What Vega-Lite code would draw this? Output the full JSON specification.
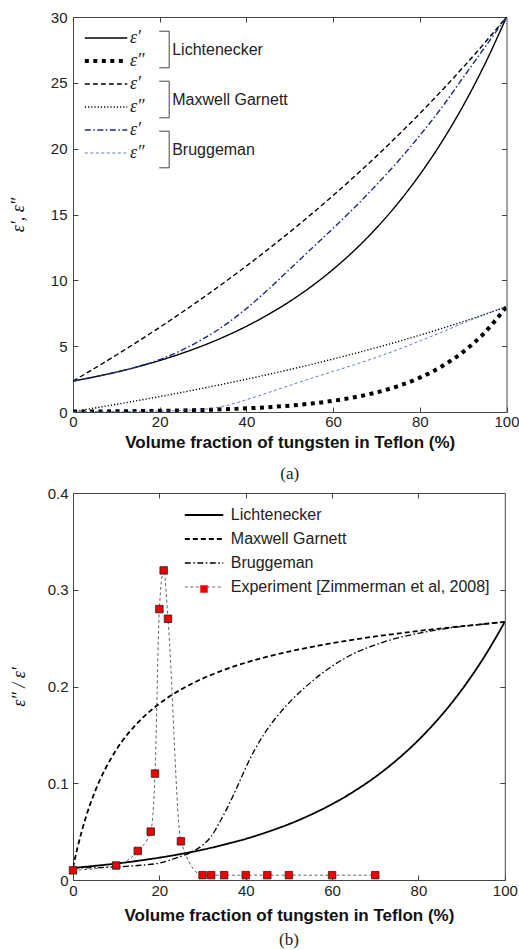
{
  "$schema": "https://vega.github.io/schema/vega-lite/v6.json",
  "background": "white",
  "padding": {"left": 9, "top": 9, "right": 0, "bottom": 0},
  "columns": 1,
  "align": "none",
  "spacing": 2,
  "resolve": {
    "scale": {"x": "independent", "y": "independent", "color": "independent", "strokeDash": "independent", "shape": "independent"},
    "legend": {"color": "independent", "strokeDash": "independent", "shape": "independent"}
  },
  "config": {
    "view": {"stroke": "#444", "strokeWidth": 1},
    "axis": {"grid": false, "domain": false, "tickColor": "#444", "tickSize": -5, "tickWidth": 1, "labelFont": "Liberation Sans", "labelFontSize": 15, "labelColor": "#222", "titleColor": "#111"},
    "legend": {"padding": 0, "offset": 0}
  },
  "datasets": {
    "a": [
      {"f":0,"g":"Lichtenecker","s":"Lichtenecker ε′","v":2.35},{"f":5,"g":"Lichtenecker","s":"Lichtenecker ε′","v":2.669},{"f":10,"g":"Lichtenecker","s":"Lichtenecker ε′","v":3.032},{"f":15,"g":"Lichtenecker","s":"Lichtenecker ε′","v":3.443},{"f":20,"g":"Lichtenecker","s":"Lichtenecker ε′","v":3.911},{"f":25,"g":"Lichtenecker","s":"Lichtenecker ε′","v":4.442},{"f":30,"g":"Lichtenecker","s":"Lichtenecker ε′","v":5.045},{"f":35,"g":"Lichtenecker","s":"Lichtenecker ε′","v":5.731},{"f":40,"g":"Lichtenecker","s":"Lichtenecker ε′","v":6.509},{"f":45,"g":"Lichtenecker","s":"Lichtenecker ε′","v":7.393},{"f":50,"g":"Lichtenecker","s":"Lichtenecker ε′","v":8.397},{"f":55,"g":"Lichtenecker","s":"Lichtenecker ε′","v":9.537},{"f":60,"g":"Lichtenecker","s":"Lichtenecker ε′","v":10.832},{"f":65,"g":"Lichtenecker","s":"Lichtenecker ε′","v":12.303},{"f":70,"g":"Lichtenecker","s":"Lichtenecker ε′","v":13.974},{"f":75,"g":"Lichtenecker","s":"Lichtenecker ε′","v":15.872},{"f":80,"g":"Lichtenecker","s":"Lichtenecker ε′","v":18.028},{"f":85,"g":"Lichtenecker","s":"Lichtenecker ε′","v":20.476},{"f":90,"g":"Lichtenecker","s":"Lichtenecker ε′","v":23.257},{"f":95,"g":"Lichtenecker","s":"Lichtenecker ε′","v":26.415},{"f":100,"g":"Lichtenecker","s":"Lichtenecker ε′","v":30},
      {"f":0,"g":"Lichtenecker","s":"Lichtenecker ε″","v":0.029},{"f":5,"g":"Lichtenecker","s":"Lichtenecker ε″","v":0.039},{"f":10,"g":"Lichtenecker","s":"Lichtenecker ε″","v":0.052},{"f":15,"g":"Lichtenecker","s":"Lichtenecker ε″","v":0.068},{"f":20,"g":"Lichtenecker","s":"Lichtenecker ε″","v":0.09},{"f":25,"g":"Lichtenecker","s":"Lichtenecker ε″","v":0.119},{"f":30,"g":"Lichtenecker","s":"Lichtenecker ε″","v":0.158},{"f":35,"g":"Lichtenecker","s":"Lichtenecker ε″","v":0.209},{"f":40,"g":"Lichtenecker","s":"Lichtenecker ε″","v":0.277},{"f":45,"g":"Lichtenecker","s":"Lichtenecker ε″","v":0.366},{"f":50,"g":"Lichtenecker","s":"Lichtenecker ε″","v":0.485},{"f":55,"g":"Lichtenecker","s":"Lichtenecker ε″","v":0.642},{"f":60,"g":"Lichtenecker","s":"Lichtenecker ε″","v":0.849},{"f":65,"g":"Lichtenecker","s":"Lichtenecker ε″","v":1.124},{"f":70,"g":"Lichtenecker","s":"Lichtenecker ε″","v":1.488},{"f":75,"g":"Lichtenecker","s":"Lichtenecker ε″","v":1.969},{"f":80,"g":"Lichtenecker","s":"Lichtenecker ε″","v":2.607},{"f":85,"g":"Lichtenecker","s":"Lichtenecker ε″","v":3.45},{"f":90,"g":"Lichtenecker","s":"Lichtenecker ε″","v":4.566},{"f":95,"g":"Lichtenecker","s":"Lichtenecker ε″","v":6.043},{"f":100,"g":"Lichtenecker","s":"Lichtenecker ε″","v":8},
      {"f":0,"g":"Maxwell Garnett","s":"Maxwell Garnett ε′","v":2.35},{"f":5,"g":"Maxwell Garnett","s":"Maxwell Garnett ε′","v":3.323},{"f":10,"g":"Maxwell Garnett","s":"Maxwell Garnett ε′","v":4.327},{"f":15,"g":"Maxwell Garnett","s":"Maxwell Garnett ε′","v":5.363},{"f":20,"g":"Maxwell Garnett","s":"Maxwell Garnett ε′","v":6.433},{"f":25,"g":"Maxwell Garnett","s":"Maxwell Garnett ε′","v":7.538},{"f":30,"g":"Maxwell Garnett","s":"Maxwell Garnett ε′","v":8.681},{"f":35,"g":"Maxwell Garnett","s":"Maxwell Garnett ε′","v":9.863},{"f":40,"g":"Maxwell Garnett","s":"Maxwell Garnett ε′","v":11.087},{"f":45,"g":"Maxwell Garnett","s":"Maxwell Garnett ε′","v":12.354},{"f":50,"g":"Maxwell Garnett","s":"Maxwell Garnett ε′","v":13.667},{"f":55,"g":"Maxwell Garnett","s":"Maxwell Garnett ε′","v":15.029},{"f":60,"g":"Maxwell Garnett","s":"Maxwell Garnett ε′","v":16.442},{"f":65,"g":"Maxwell Garnett","s":"Maxwell Garnett ε′","v":17.909},{"f":70,"g":"Maxwell Garnett","s":"Maxwell Garnett ε′","v":19.434},{"f":75,"g":"Maxwell Garnett","s":"Maxwell Garnett ε′","v":21.019},{"f":80,"g":"Maxwell Garnett","s":"Maxwell Garnett ε′","v":22.669},{"f":85,"g":"Maxwell Garnett","s":"Maxwell Garnett ε′","v":24.388},{"f":90,"g":"Maxwell Garnett","s":"Maxwell Garnett ε′","v":26.179},{"f":95,"g":"Maxwell Garnett","s":"Maxwell Garnett ε′","v":28.048},{"f":100,"g":"Maxwell Garnett","s":"Maxwell Garnett ε′","v":30},
      {"f":0,"g":"Maxwell Garnett","s":"Maxwell Garnett ε″","v":0.029},{"f":5,"g":"Maxwell Garnett","s":"Maxwell Garnett ε″","v":0.301},{"f":10,"g":"Maxwell Garnett","s":"Maxwell Garnett ε″","v":0.581},{"f":15,"g":"Maxwell Garnett","s":"Maxwell Garnett ε″","v":0.872},{"f":20,"g":"Maxwell Garnett","s":"Maxwell Garnett ε″","v":1.172},{"f":25,"g":"Maxwell Garnett","s":"Maxwell Garnett ε″","v":1.484},{"f":30,"g":"Maxwell Garnett","s":"Maxwell Garnett ε″","v":1.807},{"f":35,"g":"Maxwell Garnett","s":"Maxwell Garnett ε″","v":2.142},{"f":40,"g":"Maxwell Garnett","s":"Maxwell Garnett ε″","v":2.49},{"f":45,"g":"Maxwell Garnett","s":"Maxwell Garnett ε″","v":2.851},{"f":50,"g":"Maxwell Garnett","s":"Maxwell Garnett ε″","v":3.227},{"f":55,"g":"Maxwell Garnett","s":"Maxwell Garnett ε″","v":3.618},{"f":60,"g":"Maxwell Garnett","s":"Maxwell Garnett ε″","v":4.025},{"f":65,"g":"Maxwell Garnett","s":"Maxwell Garnett ε″","v":4.449},{"f":70,"g":"Maxwell Garnett","s":"Maxwell Garnett ε″","v":4.891},{"f":75,"g":"Maxwell Garnett","s":"Maxwell Garnett ε″","v":5.352},{"f":80,"g":"Maxwell Garnett","s":"Maxwell Garnett ε″","v":5.834},{"f":85,"g":"Maxwell Garnett","s":"Maxwell Garnett ε″","v":6.339},{"f":90,"g":"Maxwell Garnett","s":"Maxwell Garnett ε″","v":6.867},{"f":95,"g":"Maxwell Garnett","s":"Maxwell Garnett ε″","v":7.42},{"f":100,"g":"Maxwell Garnett","s":"Maxwell Garnett ε″","v":8},
      {"f":0,"g":"Bruggeman","s":"Bruggeman ε′","v":2.35},{"f":5,"g":"Bruggeman","s":"Bruggeman ε′","v":2.67},{"f":10,"g":"Bruggeman","s":"Bruggeman ε′","v":3.02},{"f":15,"g":"Bruggeman","s":"Bruggeman ε′","v":3.45},{"f":20,"g":"Bruggeman","s":"Bruggeman ε′","v":3.98},{"f":25,"g":"Bruggeman","s":"Bruggeman ε′","v":4.68},{"f":30,"g":"Bruggeman","s":"Bruggeman ε′","v":5.55},{"f":35,"g":"Bruggeman","s":"Bruggeman ε′","v":6.6},{"f":40,"g":"Bruggeman","s":"Bruggeman ε′","v":7.85},{"f":45,"g":"Bruggeman","s":"Bruggeman ε′","v":9.3},{"f":50,"g":"Bruggeman","s":"Bruggeman ε′","v":10.85},{"f":55,"g":"Bruggeman","s":"Bruggeman ε′","v":12.4},{"f":60,"g":"Bruggeman","s":"Bruggeman ε′","v":13.95},{"f":65,"g":"Bruggeman","s":"Bruggeman ε′","v":15.55},{"f":70,"g":"Bruggeman","s":"Bruggeman ε′","v":17.25},{"f":75,"g":"Bruggeman","s":"Bruggeman ε′","v":19.05},{"f":80,"g":"Bruggeman","s":"Bruggeman ε′","v":21.0},{"f":85,"g":"Bruggeman","s":"Bruggeman ε′","v":23.1},{"f":90,"g":"Bruggeman","s":"Bruggeman ε′","v":25.4},{"f":95,"g":"Bruggeman","s":"Bruggeman ε′","v":27.7},{"f":100,"g":"Bruggeman","s":"Bruggeman ε′","v":30},
      {"f":0,"g":"Bruggeman","s":"Bruggeman ε″","v":0.029},{"f":5,"g":"Bruggeman","s":"Bruggeman ε″","v":0.034},{"f":10,"g":"Bruggeman","s":"Bruggeman ε″","v":0.041},{"f":15,"g":"Bruggeman","s":"Bruggeman ε″","v":0.052},{"f":20,"g":"Bruggeman","s":"Bruggeman ε″","v":0.07},{"f":25,"g":"Bruggeman","s":"Bruggeman ε″","v":0.115},{"f":30,"g":"Bruggeman","s":"Bruggeman ε″","v":0.2},{"f":35,"g":"Bruggeman","s":"Bruggeman ε″","v":0.46},{"f":40,"g":"Bruggeman","s":"Bruggeman ε″","v":0.93},{"f":45,"g":"Bruggeman","s":"Bruggeman ε″","v":1.47},{"f":50,"g":"Bruggeman","s":"Bruggeman ε″","v":2.02},{"f":55,"g":"Bruggeman","s":"Bruggeman ε″","v":2.56},{"f":60,"g":"Bruggeman","s":"Bruggeman ε″","v":3.08},{"f":65,"g":"Bruggeman","s":"Bruggeman ε″","v":3.6},{"f":70,"g":"Bruggeman","s":"Bruggeman ε″","v":4.15},{"f":75,"g":"Bruggeman","s":"Bruggeman ε″","v":4.75},{"f":80,"g":"Bruggeman","s":"Bruggeman ε″","v":5.4},{"f":85,"g":"Bruggeman","s":"Bruggeman ε″","v":6.05},{"f":90,"g":"Bruggeman","s":"Bruggeman ε″","v":6.75},{"f":95,"g":"Bruggeman","s":"Bruggeman ε″","v":7.4},{"f":100,"g":"Bruggeman","s":"Bruggeman ε″","v":8}
    ],
    "b": [
      {"f":0,"m":"Lichtenecker","r":0.0125},{"f":5,"m":"Lichtenecker","r":0.0146},{"f":10,"m":"Lichtenecker","r":0.017},{"f":15,"m":"Lichtenecker","r":0.0198},{"f":20,"m":"Lichtenecker","r":0.0231},{"f":25,"m":"Lichtenecker","r":0.0269},{"f":30,"m":"Lichtenecker","r":0.0313},{"f":35,"m":"Lichtenecker","r":0.0365},{"f":40,"m":"Lichtenecker","r":0.0425},{"f":45,"m":"Lichtenecker","r":0.0496},{"f":50,"m":"Lichtenecker","r":0.0577},{"f":55,"m":"Lichtenecker","r":0.0673},{"f":60,"m":"Lichtenecker","r":0.0784},{"f":65,"m":"Lichtenecker","r":0.0914},{"f":70,"m":"Lichtenecker","r":0.1065},{"f":75,"m":"Lichtenecker","r":0.1241},{"f":80,"m":"Lichtenecker","r":0.1446},{"f":85,"m":"Lichtenecker","r":0.1685},{"f":90,"m":"Lichtenecker","r":0.1964},{"f":95,"m":"Lichtenecker","r":0.2289},{"f":100,"m":"Lichtenecker","r":0.2667},
      {"f":0,"m":"Maxwell Garnett","r":0.0125},{"f":1,"m":"Maxwell Garnett","r":0.0326},{"f":2,"m":"Maxwell Garnett","r":0.05},{"f":3,"m":"Maxwell Garnett","r":0.0652},{"f":4,"m":"Maxwell Garnett","r":0.0786},{"f":5,"m":"Maxwell Garnett","r":0.0905},{"f":10,"m":"Maxwell Garnett","r":0.1344},{"f":15,"m":"Maxwell Garnett","r":0.1626},{"f":20,"m":"Maxwell Garnett","r":0.1823},{"f":25,"m":"Maxwell Garnett","r":0.1969},{"f":30,"m":"Maxwell Garnett","r":0.2082},{"f":35,"m":"Maxwell Garnett","r":0.2172},{"f":40,"m":"Maxwell Garnett","r":0.2246},{"f":45,"m":"Maxwell Garnett","r":0.2308},{"f":50,"m":"Maxwell Garnett","r":0.2361},{"f":55,"m":"Maxwell Garnett","r":0.2407},{"f":60,"m":"Maxwell Garnett","r":0.2448},{"f":65,"m":"Maxwell Garnett","r":0.2484},{"f":70,"m":"Maxwell Garnett","r":0.2517},{"f":75,"m":"Maxwell Garnett","r":0.2546},{"f":80,"m":"Maxwell Garnett","r":0.2574},{"f":85,"m":"Maxwell Garnett","r":0.2599},{"f":90,"m":"Maxwell Garnett","r":0.2623},{"f":95,"m":"Maxwell Garnett","r":0.2645},{"f":100,"m":"Maxwell Garnett","r":0.2667},
      {"f":0,"m":"Bruggeman","r":0.0125},{"f":5,"m":"Bruggeman","r":0.0128},{"f":10,"m":"Bruggeman","r":0.0135},{"f":15,"m":"Bruggeman","r":0.015},{"f":20,"m":"Bruggeman","r":0.0175},{"f":25,"m":"Bruggeman","r":0.0245},{"f":28,"m":"Bruggeman","r":0.03},{"f":30,"m":"Bruggeman","r":0.036},{"f":32,"m":"Bruggeman","r":0.045},{"f":34,"m":"Bruggeman","r":0.06},{"f":36,"m":"Bruggeman","r":0.077},{"f":38,"m":"Bruggeman","r":0.096},{"f":40,"m":"Bruggeman","r":0.116},{"f":42,"m":"Bruggeman","r":0.134},{"f":44,"m":"Bruggeman","r":0.149},{"f":46,"m":"Bruggeman","r":0.162},{"f":48,"m":"Bruggeman","r":0.173},{"f":50,"m":"Bruggeman","r":0.183},{"f":55,"m":"Bruggeman","r":0.204},{"f":60,"m":"Bruggeman","r":0.221},{"f":65,"m":"Bruggeman","r":0.234},{"f":70,"m":"Bruggeman","r":0.243},{"f":75,"m":"Bruggeman","r":0.25},{"f":80,"m":"Bruggeman","r":0.255},{"f":85,"m":"Bruggeman","r":0.259},{"f":90,"m":"Bruggeman","r":0.262},{"f":95,"m":"Bruggeman","r":0.2645},{"f":100,"m":"Bruggeman","r":0.2667},
      {"f":0,"m":"Experiment [Zimmerman et al, 2008]","r":0.01},{"f":10,"m":"Experiment [Zimmerman et al, 2008]","r":0.015},{"f":15,"m":"Experiment [Zimmerman et al, 2008]","r":0.03},{"f":18,"m":"Experiment [Zimmerman et al, 2008]","r":0.05},{"f":19,"m":"Experiment [Zimmerman et al, 2008]","r":0.11},{"f":20,"m":"Experiment [Zimmerman et al, 2008]","r":0.28},{"f":21,"m":"Experiment [Zimmerman et al, 2008]","r":0.32},{"f":22,"m":"Experiment [Zimmerman et al, 2008]","r":0.27},{"f":25,"m":"Experiment [Zimmerman et al, 2008]","r":0.04},{"f":30,"m":"Experiment [Zimmerman et al, 2008]","r":0.005},{"f":32,"m":"Experiment [Zimmerman et al, 2008]","r":0.005},{"f":35,"m":"Experiment [Zimmerman et al, 2008]","r":0.005},{"f":40,"m":"Experiment [Zimmerman et al, 2008]","r":0.005},{"f":45,"m":"Experiment [Zimmerman et al, 2008]","r":0.005},{"f":50,"m":"Experiment [Zimmerman et al, 2008]","r":0.005},{"f":60,"m":"Experiment [Zimmerman et al, 2008]","r":0.005},{"f":70,"m":"Experiment [Zimmerman et al, 2008]","r":0.005}
    ],
    "e": [
      {"f":0,"e":"exp","r":0.01},{"f":10,"e":"exp","r":0.015},{"f":15,"e":"exp","r":0.03},{"f":18,"e":"exp","r":0.05},{"f":19,"e":"exp","r":0.11},{"f":20,"e":"exp","r":0.28},{"f":21,"e":"exp","r":0.32},{"f":22,"e":"exp","r":0.27},{"f":25,"e":"exp","r":0.04},{"f":30,"e":"exp","r":0.005},{"f":32,"e":"exp","r":0.005},{"f":35,"e":"exp","r":0.005},{"f":40,"e":"exp","r":0.005},{"f":45,"e":"exp","r":0.005},{"f":50,"e":"exp","r":0.005},{"f":60,"e":"exp","r":0.005},{"f":70,"e":"exp","r":0.005}
    ]
  },
  "concat": [
    {
      "width": 433.5,
      "height": 395,
      "title": {"text": "(a)", "orient": "bottom", "font": "Liberation Serif", "fontSize": 17, "fontWeight": "normal", "color": "#222", "offset": 16},
      "data": {"name": "a"},
      "layer": [
        {
          "mark": {"type": "line", "interpolate": "monotone", "clip": true},
          "encoding": {
            "x": {"field": "f", "type": "quantitative", "scale": {"domain": [0, 100], "nice": false},
              "axis": {"orient": "bottom", "values": [0, 20, 40, 60, 80, 100], "title": "Volume fraction of tungsten in Teflon (%)", "titleFont": "Liberation Sans", "titleFontWeight": "bold", "titleFontSize": 17, "titlePadding": 5, "labelPadding": 7, "labelFlush": false}},
            "y": {"field": "v", "type": "quantitative", "scale": {"domain": [0, 30], "nice": false},
              "axis": {"orient": "left", "values": [0, 5, 10, 15, 20, 25, 30], "title": "ε′, ε″", "titleFont": "Liberation Serif", "titleFontStyle": "italic", "titleFontWeight": "normal", "titleFontSize": 18, "titlePadding": 22.5, "labelPadding": 11}},
            "strokeDash": {"field": "s", "type": "nominal",
              "scale": {"domain": ["Lichtenecker ε′", "Lichtenecker ε″", "Maxwell Garnett ε′", "Maxwell Garnett ε″", "Bruggeman ε′", "Bruggeman ε″"],
                "range": [[1, 0], [4, 4.5], [5, 3], [1.2, 2], [6, 2.5, 1.5, 2.5], [3, 2.5]]},
              "legend": {"orient": "none", "legendX": 9.9, "legendY": 12, "title": null, "symbolType": "M-1,0H5", "symbolSize": 200, "labelExpr": "slice(datum.label, -2)", "labelFont": "Liberation Serif", "labelFontStyle": "italic", "labelFontSize": 18, "labelColor": "#222", "labelOffset": 29, "rowPadding": 5,
                "encode": {"symbols": {"update": {"strokeWidth": {"signal": "datum.value === 'Lichtenecker ε″' ? 4 : (datum.value === 'Bruggeman ε″' ? 0.8 : 1.4)"}}}}}},
            "color": {"field": "s", "type": "nominal",
              "scale": {"domain": ["Lichtenecker ε′", "Lichtenecker ε″", "Maxwell Garnett ε′", "Maxwell Garnett ε″", "Bruggeman ε′", "Bruggeman ε″"],
                "range": ["#000000", "#000000", "#000000", "#000000", "#1c2c78", "#3b5bb5"]}},
            "strokeWidth": {"condition": [{"test": "datum.s === 'Lichtenecker ε″'", "value": 4}, {"test": "datum.s === 'Bruggeman ε″'", "value": 0.8}], "value": 1.4}
          }
        },
        {
          "mark": {"type": "point", "opacity": 0, "strokeWidth": 1, "color": "#444"},
          "encoding": {
            "x": {"field": "f", "type": "quantitative", "axis": {"orient": "top", "values": [20, 40, 60, 80], "labels": false, "title": null}},
            "y": {"field": "v", "type": "quantitative", "axis": {"orient": "right", "values": [5, 10, 15, 20, 25], "labels": false, "title": null}},
            "shape": {"field": "g", "type": "nominal",
              "scale": {"domain": ["Lichtenecker", "Maxwell Garnett", "Bruggeman"], "range": ["M0.333,-1.22H1V1.22H0.333", "M0.333,-1.22H1V1.22H0.333", "M0.333,-1.22H1V1.22H0.333"]},
              "legend": {"orient": "none", "legendX": 65.7, "legendY": 17, "title": null, "symbolSize": 900, "symbolStrokeWidth": 1, "symbolStrokeColor": "#444", "symbolOpacity": 1, "symbolFillColor": "transparent", "labelFont": "Liberation Sans", "labelFontSize": 16, "labelColor": "#222", "labelOffset": 2.5, "rowPadding": 9}}
          }
        }
      ]
    },
    {
      "width": 431.8,
      "height": 387,
      "title": {"text": "(b)", "orient": "bottom", "font": "Liberation Serif", "fontSize": 17, "fontWeight": "normal", "color": "#222", "offset": 9},
      "layer": [
        {
          "data": {"name": "b"},
          "mark": {"type": "line", "interpolate": "monotone", "clip": true},
          "encoding": {
            "x": {"field": "f", "type": "quantitative", "scale": {"domain": [0, 100], "nice": false},
              "axis": {"orient": "bottom", "values": [0, 20, 40, 60, 80, 100], "title": "Volume fraction of tungsten in Teflon (%)", "titleFont": "Liberation Sans", "titleFontWeight": "bold", "titleFontSize": 17, "titlePadding": 9, "labelPadding": 8, "labelFlush": false}},
            "y": {"field": "r", "type": "quantitative", "scale": {"domain": [0, 0.4], "nice": false},
              "axis": {"orient": "left", "values": [0, 0.1, 0.2, 0.3, 0.4], "format": "~g", "title": "ε″ / ε′", "titleFont": "Liberation Serif", "titleFontStyle": "italic", "titleFontWeight": "normal", "titleFontSize": 18, "titlePadding": 18.5, "labelPadding": 10}},
            "strokeDash": {"field": "m", "type": "nominal",
              "scale": {"domain": ["Lichtenecker", "Maxwell Garnett", "Bruggeman", "Experiment [Zimmerman et al, 2008]"],
                "range": [[1, 0], [5, 3], [6, 2.5, 1.5, 2.5], [3, 2.5]]},
              "legend": {"orient": "none", "legendX": 110.2, "legendY": 14, "title": null, "symbolType": "M-1,0H5", "symbolSize": 164, "labelFont": "Liberation Sans", "labelFontSize": 16, "labelColor": "#222", "labelOffset": 31.6, "labelLimit": 400, "rowPadding": 8,
                "encode": {"symbols": {"update": {"strokeWidth": {"signal": "datum.value === 'Bruggeman' ? 1.3 : (datum.value === 'Experiment [Zimmerman et al, 2008]' ? 0.9 : 1.8)"}}}}}},
            "color": {"field": "m", "type": "nominal",
              "scale": {"domain": ["Lichtenecker", "Maxwell Garnett", "Bruggeman", "Experiment [Zimmerman et al, 2008]"],
                "range": ["#000000", "#000000", "#000000", "#555555"]}},
            "strokeWidth": {"condition": [{"test": "datum.m === 'Bruggeman'", "value": 1.3}, {"test": "datum.m === 'Experiment [Zimmerman et al, 2008]'", "value": 0.9}], "value": 1.8}
          }
        },
        {
          "data": {"name": "e"},
          "mark": {"type": "point", "filled": true, "fill": "#ee0000", "stroke": "#222222", "strokeWidth": 0.8, "size": 56, "opacity": 1},
          "encoding": {
            "x": {"field": "f", "type": "quantitative", "axis": {"orient": "top", "values": [20, 40, 60, 80], "labels": false, "title": null}},
            "y": {"field": "r", "type": "quantitative", "axis": {"orient": "right", "values": [0.1, 0.2, 0.3], "labels": false, "title": null}},
            "shape": {"field": "e", "type": "nominal", "scale": {"domain": ["exp"], "range": ["square"]},
              "legend": {"orient": "none", "legendX": 126.5, "legendY": 91.5, "title": null, "labelExpr": "''", "labelFontSize": 1, "symbolSize": 56, "symbolFillColor": "#ee0000", "symbolStrokeColor": "#222222", "symbolStrokeWidth": 0.8}}
          }
        }
      ]
    }
  ]
}
